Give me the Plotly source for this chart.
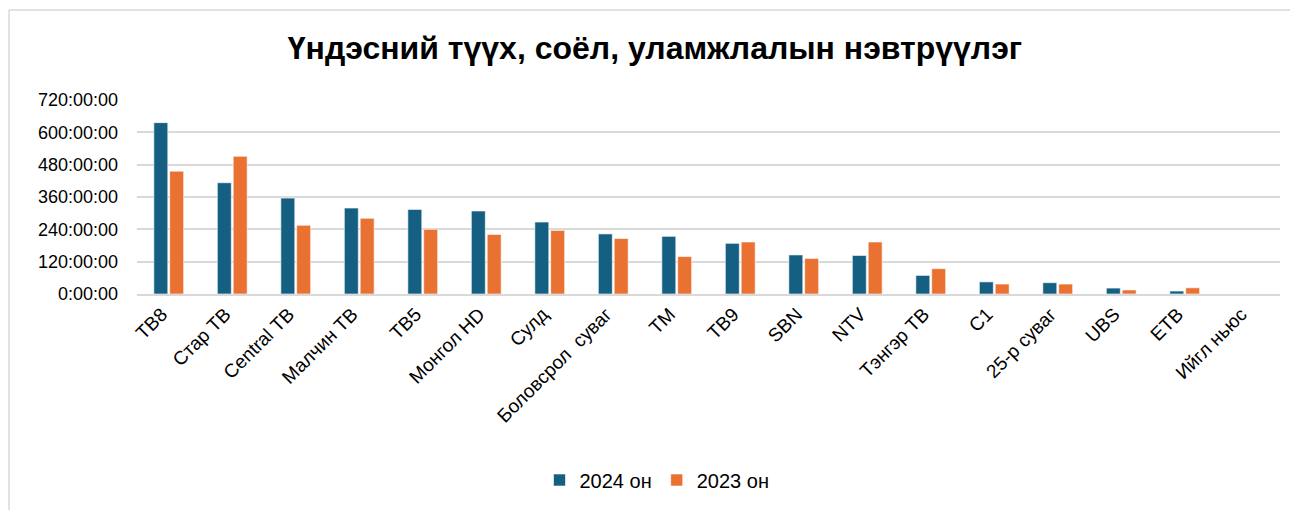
import plotly.graph_objects as go

categories = ["ТВ8", "Стар ТВ", "Central ТВ", "Малчин ТВ", "ТВ5", "Монгол HD", "Сулд",
              "Боловсрол  суваг", "ТМ", "ТВ9", "SBN", "NTV", "Тэнгэр ТВ", "C1",
              "25-р суваг", "UBS", "ETB", "Ийгл ньюс"]
values_2024 = [636, 413, 356, 319, 314, 308, 267, 223, 214, 188, 145, 143, 69, 45, 42, 22, 11, 0]
values_2023 = [456, 511, 255, 281, 240, 221, 236, 206, 139, 193, 132, 193, 94, 37, 37, 15, 23, 0]
tick_vals = [0, 120, 240, 360, 480, 600, 720]
tick_text = ["0:00:00", "120:00:00", "240:00:00", "360:00:00", "480:00:00", "600:00:00", "720:00:00"]

OFF = 8  # page body margin
W, H = 1298, 510
L, T = 137 - OFF, 100 - OFF
R = W - (1280 - OFF)
B = H - (294 - OFF)
PW, PH = W - L - R, H - T - B

def px_x(p):
    return (p - OFF - L) / PW

def px_y(p):
    return (H - B - (p - OFF)) / PH

fig = go.Figure()
fig.add_trace(go.Bar(name="2024 он", x=categories, y=values_2024,
                     marker=dict(color="#156082", line=dict(color="#ffffff", width=0.6))))
fig.add_trace(go.Bar(name="2023 он", x=categories, y=values_2023,
                     marker=dict(color="#E97132", line=dict(color="#ffffff", width=0.6))))

fig.update_layout(
    width=W, height=H,
    margin=dict(l=L, r=R, t=T, b=B, autoexpand=False),
    paper_bgcolor="white", plot_bgcolor="white",
    font=dict(family="Liberation Sans, Arial, sans-serif", color="#000000"),
    title=dict(text="<b>Үндэсний түүх, соёл, уламжлалын нэвтрүүлэг</b>",
               x=px_x(655), xref="paper", xanchor="center",
               y=1 - (48 - OFF) / H, yref="container", yanchor="middle",
               font=dict(size=32, color="#000000")),
    barmode="group", bargap=0.5, bargroupgap=0.12,
    legend=dict(orientation="h", x=px_x(657), xanchor="center",
                y=px_y(480), yanchor="middle",
                font=dict(size=20, color="#000000"), itemwidth=30),
    showlegend=True,
)
fig.update_yaxes(range=[0, 720], tickvals=tick_vals, ticktext=tick_text,
                 showgrid=True, gridcolor="#d9d9d9", gridwidth=1.5,
                 zeroline=False, showline=False, ticks="", automargin=False,
                 tickfont=dict(size=18, color="#000000"), ticklabelstandoff=18)
fig.update_xaxes(tickangle=-45, tickfont=dict(size=19, color="#000000"), automargin=False,
                 showline=True, linecolor="#d9d9d9", linewidth=1.5, ticks="",
                 ticklabelshift=-7)

# chart border (top and left)
fig.add_shape(type="line", xref="paper", yref="paper",
              x0=px_x(9), x1=px_x(W + OFF), y0=px_y(10), y1=px_y(10),
              line=dict(color="#d9d9d9", width=1.5))
fig.add_shape(type="line", xref="paper", yref="paper",
              x0=px_x(9), x1=px_x(9), y0=px_y(10), y1=px_y(H + OFF),
              line=dict(color="#d9d9d9", width=1.5))

fig.write_html("out.html")
